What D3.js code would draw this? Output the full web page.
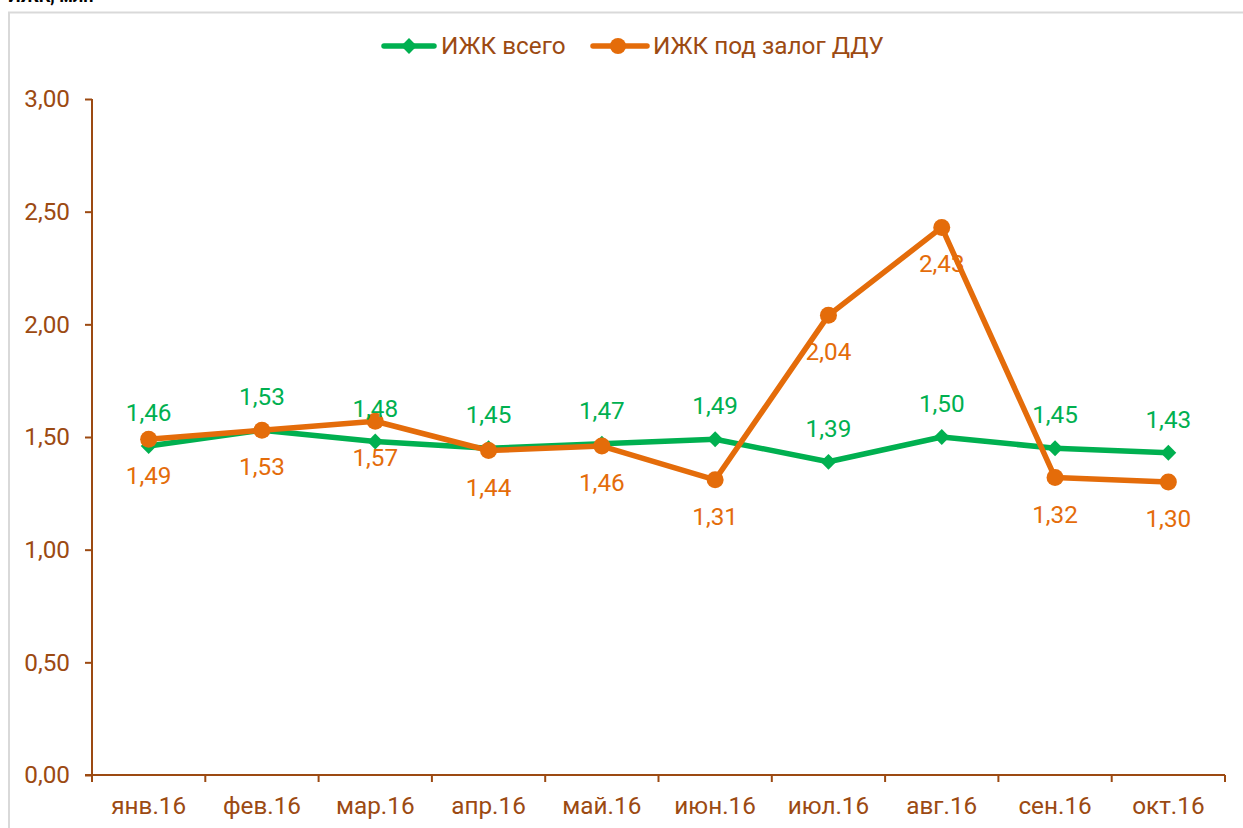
<!DOCTYPE html>
<html><head><meta charset="utf-8">
<script src="https://cdn.jsdelivr.net/npm/d3@7/dist/d3.min.js"></script>
<style>
html,body{margin:0;padding:0;background:#fff;}
svg{display:block;font-family:Roboto,"Noto Sans",sans-serif;}
</style></head>
<body><svg id="c" width="1243" height="828"></svg>
<script>
const categories = ["янв.16","фев.16","мар.16","апр.16","май.16","июн.16","июл.16","авг.16","сен.16","окт.16"];
const seriesTotal = [1.46,1.53,1.48,1.45,1.47,1.49,1.39,1.50,1.45,1.43];
const seriesDDU   = [1.49,1.53,1.57,1.44,1.46,1.31,2.04,2.43,1.32,1.30];
const seriesNames = ["ИЖК всего","ИЖК под залог ДДУ"];
const yTicks = [0,0.5,1,1.5,2,2.5,3];

const green = "#00B050", orange = "#E46C0A", brown = "#9C4A12";
const svg = d3.select("#c");
const fmt = v => d3.format(".2f")(v).replace(".", ",");
const FS = 24.3;

// frame
svg.append("rect").attr("x",9).attr("y",12.5).attr("width",1250).attr("height",830)
  .attr("fill","none").attr("stroke","#d9d9d9").attr("stroke-width",2);
// cut-off top text (partially visible in reference)
svg.append("text").attr("x",8).attr("y",1.5).attr("font-size",18).attr("font-weight","bold")
  .attr("fill","#000").text("ИЖК, млн");

const m = {l:92, r:1225, t:99, b:775};
const x = d3.scaleBand().domain(categories).range([m.l, m.r]);
const y = d3.scaleLinear().domain([0,3]).range([m.b, m.t]);

// y axis
const ya = svg.append("g").attr("transform",`translate(${m.l},0)`)
  .call(d3.axisLeft(y).tickValues(yTicks).tickFormat(fmt).tickSize(7).tickPadding(15));
ya.select(".domain").attr("stroke",brown).attr("stroke-width",2).attr("d",`M0,${m.t}V${m.b}`);
ya.selectAll(".tick line").attr("stroke",brown).attr("stroke-width",2);
ya.selectAll(".tick text").attr("fill",brown).attr("font-size",FS).attr("font-family","Roboto");

// x axis
const xa = svg.append("g").attr("transform",`translate(0,${m.b})`);
xa.append("line").attr("x1",m.l-7).attr("x2",m.r).attr("y1",0).attr("y2",0).attr("stroke",brown).attr("stroke-width",2);
const bounds = categories.map(c => x(c)).concat([x(categories[categories.length-1]) + x.bandwidth()]);
xa.selectAll("line.tk").data(bounds).enter().append("line").attr("class","tk")
  .attr("x1",d=>d).attr("x2",d=>d).attr("y1",0).attr("y2",7).attr("stroke",brown).attr("stroke-width",2);
xa.selectAll("text").data(categories).enter().append("text")
  .attr("x",d=>x(d)+x.bandwidth()/2).attr("y",39).attr("text-anchor","middle")
  .attr("fill",brown).attr("font-size",FS).text(d=>d);

const cx = c => x(c) + x.bandwidth()/2;
const line = d3.line().x((d,i)=>cx(categories[i])).y(d=>y(d));
const diamond = d3.symbol(d3.symbolSquare, 125);

// green series
svg.append("path").attr("d",line(seriesTotal)).attr("fill","none").attr("stroke",green).attr("stroke-width",5.5).attr("stroke-linejoin","round");
svg.selectAll("path.dm").data(seriesTotal).enter().append("path").attr("class","dm")
  .attr("d",diamond).attr("fill",green)
  .attr("transform",(d,i)=>`translate(${cx(categories[i])},${y(d)}) rotate(45)`);

// orange series
svg.append("path").attr("d",line(seriesDDU)).attr("fill","none").attr("stroke",orange).attr("stroke-width",5.5).attr("stroke-linejoin","round");
svg.selectAll("circle.dt").data(seriesDDU).enter().append("circle").attr("class","dt")
  .attr("cx",(d,i)=>cx(categories[i])).attr("cy",d=>y(d)).attr("r",8.5).attr("fill",orange);

// labels
svg.selectAll("text.lg").data(seriesTotal).enter().append("text").attr("class","lg")
  .attr("x",(d,i)=>cx(categories[i])).attr("y",d=>y(d)-25).attr("text-anchor","middle")
  .attr("fill",green).attr("font-size",FS).text(fmt);
svg.selectAll("text.lo").data(seriesDDU).enter().append("text").attr("class","lo")
  .attr("x",(d,i)=>cx(categories[i])).attr("y",d=>y(d)+45).attr("text-anchor","middle")
  .attr("fill",orange).attr("font-size",FS).text(fmt);

// legend
const lg = svg.append("g");
lg.append("line").attr("x1",384).attr("x2",434).attr("y1",46).attr("y2",46).attr("stroke",green).attr("stroke-width",5.5).attr("stroke-linecap","round");
lg.append("path").attr("d",diamond).attr("fill",green).attr("transform","translate(409,46) rotate(45)");
lg.append("text").attr("x",441).attr("y",54).attr("fill",brown).attr("font-size",FS).text(seriesNames[0]);
lg.append("line").attr("x1",593).attr("x2",647).attr("y1",46).attr("y2",46).attr("stroke",orange).attr("stroke-width",5.5).attr("stroke-linecap","round");
lg.append("circle").attr("cx",618).attr("cy",46).attr("r",8).attr("fill",orange);
lg.append("text").attr("x",653).attr("y",54).attr("fill",brown).attr("font-size",FS).text(seriesNames[1]);
</script></body></html>
